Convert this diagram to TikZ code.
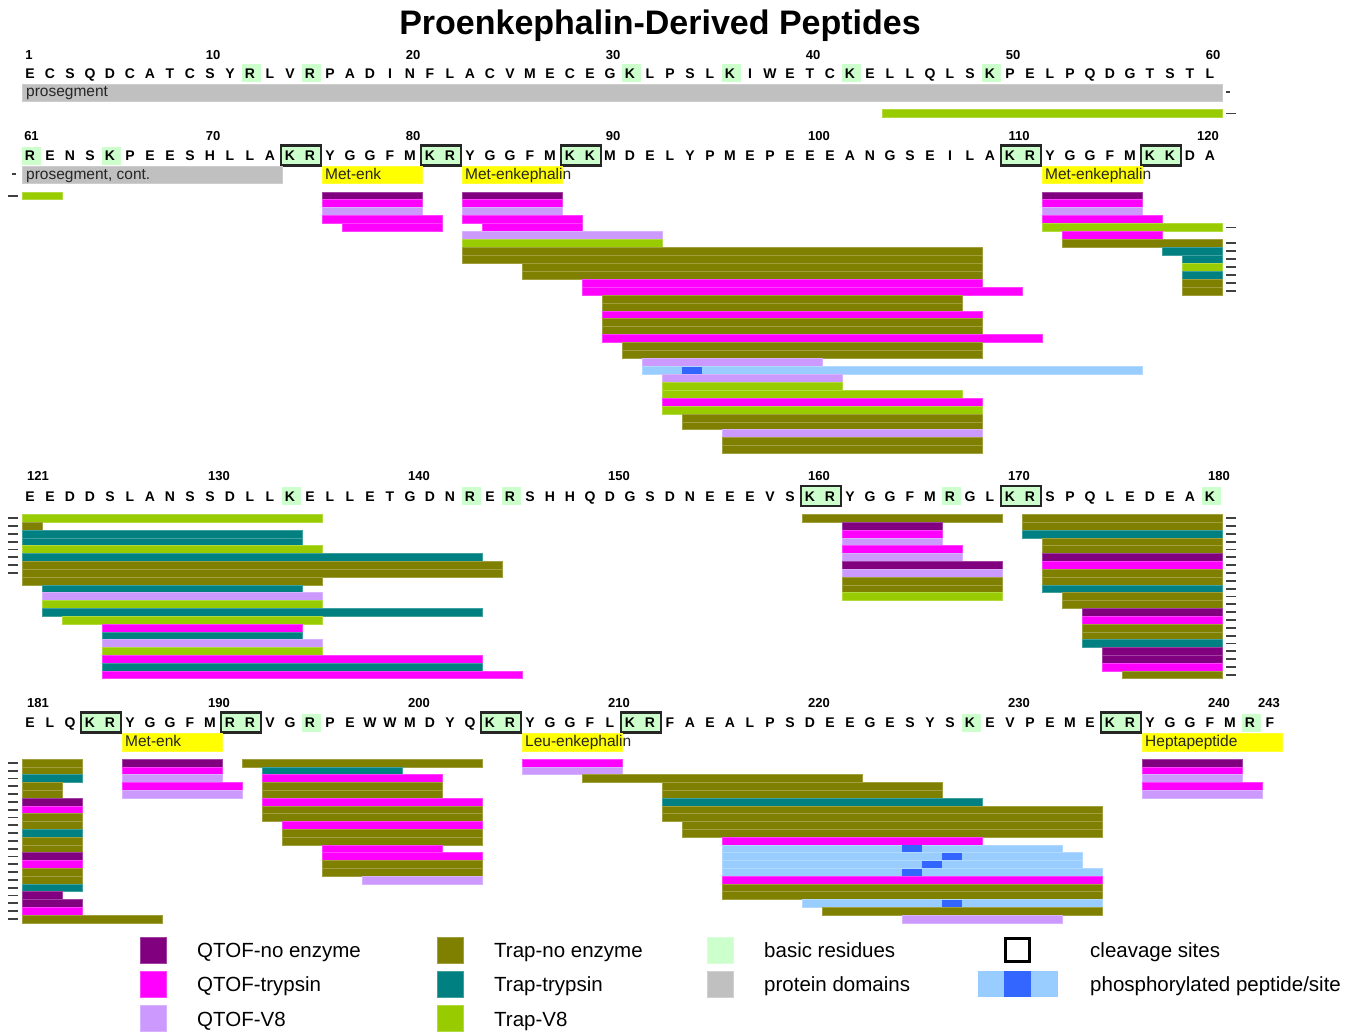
\documentclass[tikz,border=0pt]{standalone}
\usepackage{fontspec}
\setmainfont{Liberation Sans}
\definecolor{qne}{HTML}{800080}
\definecolor{qtr}{HTML}{FF00FF}
\definecolor{qv8}{HTML}{CC99FF}
\definecolor{tne}{HTML}{808000}
\definecolor{ttr}{HTML}{008080}
\definecolor{tv8}{HTML}{99CC00}
\definecolor{basic}{HTML}{CCFFCC}
\definecolor{dom}{HTML}{C0C0C0}
\definecolor{yel}{HTML}{FFFF00}
\definecolor{phl}{HTML}{99CCFF}
\definecolor{phd}{HTML}{3366FF}
\newcommand\PBar[4]{\filldraw[fill=#4,draw=#4!75!white,line width=0.5pt] ({20*(#2-\Off)+2},{\RY+#1*\RH}) rectangle ({20*(#3-\Off)+22},{\RY+(#1+1)*\RH});}
\newcommand\PSite[2]{\fill[phd] ({20*(#2-\Off)+2},{\RY+#1*\RH+0.4}) rectangle ({20*(#2-\Off)+22},{\RY+(#1+1)*\RH-0.4});}
\newcommand\TickR[1]{\draw[tickmark] (1226,{\RY+(#1+0.5)*\RH}) -- (1236,{\RY+(#1+0.5)*\RH});}
\newcommand\TickL[1]{\draw[tickmark] (8,{\RY+(#1+0.5)*\RH}) -- (18,{\RY+(#1+0.5)*\RH});}
\newcommand\SeqRow[3]{\foreach \c [count=\i] in {#3} {\node[res] (s#1-\i) at ({20*\i+10},#2) {\c};}}
\newcommand\Basic[2]{\foreach \p in {#2} {\fill[basic] ({20*\p+1.5},{#1-9}) rectangle ({20*\p+20.5},{#1+9});}}
\newcommand\CBox[2]{\foreach \p in {#2} {\fill[basic] ({20*\p+1.5},{#1-9}) rectangle ({20*\p+40.5},{#1+9}); \draw[cbox] ({20*\p+1},{#1-10}) rectangle ({20*\p+41},{#1+10});}}
\newcommand\DomLab[5]{\filldraw[fill=#5,draw=#5!80!white,line width=0.5pt] ({20*#3+2},#1) rectangle ({20*#4+22},#2);}
\begin{document}
\begin{tikzpicture}[x=1pt,y=-1pt,
  res/.style={font=\fontsize{14}{16}\selectfont\bfseries, anchor=base, inner sep=0pt},
  num/.style={font=\fontsize{13}{15}\selectfont\bfseries, anchor=base, inner sep=0pt},
  lab/.style={font=\fontsize{15.5}{17}\selectfont, anchor=base west, inner sep=0pt, text=black!85},
  leg/.style={font=\fontsize{20.5}{23}\selectfont, anchor=base west, inner sep=0pt},
  tickmark/.style={line width=1.8pt, draw=black!75},
  cbox/.style={draw=black!85, line width=2.5pt},
  swatch/.style={line width=0.5pt},
]
\useasboundingbox (0,0) rectangle (1360,1031);
\node[font=\fontsize{34}{40}\selectfont\bfseries, anchor=base, inner sep=0pt] (title) at (660,34) {Proenkephalin-Derived Peptides};

% ---------------- Row 1 ----------------
\Basic{73}{12,15,31,36,42,49}
\SeqRow{a}{78}{E,C,S,Q,D,C,A,T,C,S,Y,R,L,V,R,P,A,D,I,N,F,L,A,C,V,M,E,C,E,G,K,L,P,S,L,K,I,W,E,T,C,K,E,L,L,Q,L,S,K,P,E,L,P,Q,D,G,T,S,T,L}
\node[num] (na1) at (29,59.5) {1};
\foreach \k in {1,...,6} {\node[num] (na\k0) at ({200*\k+13},59.5) {\k0};}
\DomLab{84}{101}{1}{60}{dom}
\node[lab] (pro1) at (26,96.5) {prosegment};
\draw[tickmark,line width=1.5pt] (1226,92) -- (1230,92);
\def\Off{0}\def\RY{109.5}\def\RH{7.9}
\PBar{0}{44}{60}{tv8}\TickR{0}

% ---------------- Row 2 ----------------
\Basic{155.5}{1,5}
\CBox{155.5}{14,21,28,50,57}
\SeqRow{b}{160.5}{R,E,N,S,K,P,E,E,S,H,L,L,A,K,R,Y,G,G,F,M,K,R,Y,G,G,F,M,K,K,M,D,E,L,Y,P,M,E,P,E,E,E,A,N,G,S,E,I,L,A,K,R,Y,G,G,F,M,K,K,D,A}
\node[num] (nb61) at (31.5,140) {61};
\foreach \k/\t in {1/70,2/80,3/90} {\node[num] (nb\t) at ({200*\k+13},140) {\t};}
\foreach \k/\t in {4/100,5/110} {\node[num] (nb\t) at ({200*\k+19},140) {\t};}
\node[num] (nb120) at (1208,140) {120};
\DomLab{166}{183}{1}{13}{dom}
\DomLab{166}{183}{16}{20}{yel}
\DomLab{166}{183}{23}{27}{yel}
\DomLab{166}{183}{52}{56}{yel}
\node[lab] (pro2) at (26,179) {prosegment, cont.};
\node[lab] (me1) at (325,179) {Met-enk};
\node[lab] (me2) at (465,179) {Met-enkephalin};
\node[lab] (me3) at (1045,179) {Met-enkephalin};
\draw[tickmark,line width=1.5pt] (12,174) -- (16,174);
\def\Off{60}\def\RY{191.8}\def\RH{7.93}
\PBar{0}{61}{62}{tv8}\TickL{0}
\PBar{0}{76}{80}{qne}\PBar{0}{83}{87}{qne}\PBar{0}{112}{116}{qne}
\PBar{1}{76}{80}{qtr}\PBar{1}{83}{87}{qtr}\PBar{1}{112}{116}{qtr}
\PBar{2}{76}{80}{qv8}\PBar{2}{83}{87}{qv8}\PBar{2}{112}{116}{qv8}
\PBar{3}{76}{81}{qtr}\PBar{3}{83}{88}{qtr}\PBar{3}{112}{117}{qtr}
\PBar{4}{77}{81}{qtr}\PBar{4}{84}{88}{qtr}\PBar{4}{112}{120}{tv8}\TickR{4}
\PBar{5}{83}{92}{qv8}\PBar{5}{113}{117}{qtr}
\PBar{6}{83}{92}{tv8}\PBar{6}{113}{120}{tne}\TickR{6}
\PBar{7}{83}{108}{tne}\PBar{7}{118}{120}{ttr}\TickR{7}
\PBar{8}{83}{108}{tne}\PBar{8}{119}{120}{ttr}\TickR{8}
\PBar{9}{86}{108}{tne}\PBar{9}{119}{120}{tv8}\TickR{9}
\PBar{10}{86}{108}{tne}\PBar{10}{119}{120}{ttr}\TickR{10}
\PBar{11}{89}{108}{qtr}\PBar{11}{119}{120}{tne}\TickR{11}
\PBar{12}{89}{110}{qtr}\PBar{12}{119}{120}{tne}\TickR{12}
\PBar{13}{90}{107}{tne}
\PBar{14}{90}{107}{tne}
\PBar{15}{90}{108}{qtr}
\PBar{16}{90}{108}{tne}
\PBar{17}{90}{108}{tne}
\PBar{18}{90}{111}{qtr}
\PBar{19}{91}{108}{tne}
\PBar{20}{91}{108}{tne}
\PBar{21}{92}{100}{qv8}
\PBar{22}{92}{116}{phl}\PSite{22}{94}
\PBar{23}{93}{101}{qv8}
\PBar{24}{93}{101}{tv8}
\PBar{25}{93}{107}{tv8}
\PBar{26}{93}{108}{qtr}
\PBar{27}{93}{108}{tv8}
\PBar{28}{94}{108}{tne}
\PBar{29}{94}{108}{tne}
\PBar{30}{96}{108}{qv8}
\PBar{31}{96}{108}{tne}
\PBar{32}{96}{108}{tne}

% ---------------- Row 3 ----------------
\Basic{496}{14,23,25,47,60}
\CBox{496}{40,50}
\SeqRow{c}{501}{E,E,D,D,S,L,A,N,S,S,D,L,L,K,E,L,L,E,T,G,D,N,R,E,R,S,H,H,Q,D,G,S,D,N,E,E,E,V,S,K,R,Y,G,G,F,M,R,G,L,K,R,S,P,Q,L,E,D,E,A,K}
\node[num] (nc121) at (38,480) {121};
\foreach \k/\t in {1/130,2/140,3/150,4/160,5/170,6/180} {\node[num] (nc\t) at ({200*\k+19},480) {\t};}
\def\Off{120}\def\RY{514.3}\def\RH{7.83}
\PBar{0}{121}{135}{tv8}\TickL{0}\PBar{0}{160}{169}{tne}\PBar{0}{171}{180}{tne}\TickR{0}
\PBar{1}{121}{121}{tne}\TickL{1}\PBar{1}{162}{166}{qne}\PBar{1}{171}{180}{tne}\TickR{1}
\PBar{2}{121}{134}{ttr}\TickL{2}\PBar{2}{162}{166}{qtr}\PBar{2}{171}{180}{ttr}\TickR{2}
\PBar{3}{121}{134}{ttr}\TickL{3}\PBar{3}{162}{166}{qv8}\PBar{3}{172}{180}{tne}\TickR{3}
\PBar{4}{121}{135}{tv8}\TickL{4}\PBar{4}{162}{167}{qtr}\PBar{4}{172}{180}{tne}\TickR{4}
\PBar{5}{121}{143}{ttr}\TickL{5}\PBar{5}{162}{167}{qv8}\PBar{5}{172}{180}{qne}\TickR{5}
\PBar{6}{121}{144}{tne}\TickL{6}\PBar{6}{162}{169}{qne}\PBar{6}{172}{180}{qtr}\TickR{6}
\PBar{7}{121}{144}{tne}\TickL{7}\PBar{7}{162}{169}{qv8}\PBar{7}{172}{180}{tne}\TickR{7}
\PBar{8}{121}{135}{tne}\PBar{8}{162}{169}{tne}\PBar{8}{172}{180}{tne}\TickR{8}
\PBar{9}{122}{134}{ttr}\PBar{9}{162}{169}{tne}\PBar{9}{172}{180}{ttr}\TickR{9}
\PBar{10}{122}{135}{qv8}\PBar{10}{162}{169}{tv8}\PBar{10}{173}{180}{tne}\TickR{10}
\PBar{11}{122}{135}{tv8}\PBar{11}{173}{180}{tne}\TickR{11}
\PBar{12}{122}{143}{ttr}\PBar{12}{174}{180}{qne}\TickR{12}
\PBar{13}{123}{135}{tv8}\PBar{13}{174}{180}{qtr}\TickR{13}
\PBar{14}{125}{134}{qtr}\PBar{14}{174}{180}{tne}\TickR{14}
\PBar{15}{125}{134}{ttr}\PBar{15}{174}{180}{tne}\TickR{15}
\PBar{16}{125}{135}{qv8}\PBar{16}{174}{180}{ttr}\TickR{16}
\PBar{17}{125}{135}{tv8}\PBar{17}{175}{180}{qne}\TickR{17}
\PBar{18}{125}{143}{qtr}\PBar{18}{175}{180}{qne}\TickR{18}
\PBar{19}{125}{143}{ttr}\PBar{19}{175}{180}{qtr}\TickR{19}
\PBar{20}{125}{145}{qtr}\PBar{20}{176}{180}{tne}\TickR{20}

% ---------------- Row 4 ----------------
\Basic{722.5}{15,48,62}
\CBox{722.5}{4,11,24,31,55}
\SeqRow{d}{727.5}{E,L,Q,K,R,Y,G,G,F,M,R,R,V,G,R,P,E,W,W,M,D,Y,Q,K,R,Y,G,G,F,L,K,R,F,A,E,A,L,P,S,D,E,E,G,E,S,Y,S,K,E,V,P,E,M,E,K,R,Y,G,G,F,M,R,F}
\node[num] (nd181) at (38,707.5) {181};
\foreach \k/\t in {1/190,2/200,3/210,4/220,5/230,6/240} {\node[num] (nd\t) at ({200*\k+19},707.5) {\t};}
\node[num,anchor=base east] (nd243) at (1280,707.5) {243};
\DomLab{733}{751}{6}{10}{yel}
\DomLab{733}{751}{26}{30}{yel}
\DomLab{733}{751}{57}{63}{yel}
\node[lab] (me4) at (125,746) {Met-enk};
\node[lab] (le1) at (525,746) {Leu-enkephalin};
\node[lab] (hp1) at (1145,746) {Heptapeptide};
\def\Off{180}\def\RY{759}\def\RH{7.8}
\PBar{0}{181}{183}{tne}\PBar{0}{186}{190}{qne}\PBar{0}{192}{203}{tne}\PBar{0}{206}{210}{qtr}\PBar{0}{237}{241}{qne}
\PBar{1}{181}{183}{tne}\PBar{1}{186}{190}{qtr}\PBar{1}{193}{199}{ttr}\PBar{1}{206}{210}{qv8}\PBar{1}{237}{241}{qtr}
\PBar{2}{181}{183}{ttr}\PBar{2}{186}{190}{qv8}\PBar{2}{193}{201}{qtr}\PBar{2}{209}{222}{tne}\PBar{2}{237}{241}{qv8}
\PBar{3}{181}{182}{tne}\PBar{3}{186}{191}{qtr}\PBar{3}{193}{201}{tne}\PBar{3}{213}{226}{tne}\PBar{3}{237}{242}{qtr}
\PBar{4}{181}{182}{tne}\PBar{4}{186}{191}{qv8}\PBar{4}{193}{201}{tne}\PBar{4}{213}{226}{tne}\PBar{4}{237}{242}{qv8}
\PBar{5}{181}{183}{qne}\PBar{5}{193}{203}{qtr}\PBar{5}{213}{228}{ttr}
\PBar{6}{181}{183}{qtr}\PBar{6}{193}{203}{tne}\PBar{6}{213}{234}{tne}
\PBar{7}{181}{183}{tne}\PBar{7}{193}{203}{tne}\PBar{7}{213}{234}{tne}
\PBar{8}{181}{183}{tne}\PBar{8}{194}{203}{qtr}\PBar{8}{214}{234}{tne}
\PBar{9}{181}{183}{ttr}\PBar{9}{194}{203}{tne}\PBar{9}{214}{234}{tne}
\PBar{10}{181}{183}{tne}\PBar{10}{194}{203}{tne}\PBar{10}{216}{228}{qtr}
\PBar{11}{181}{183}{tne}\PBar{11}{196}{201}{qtr}\PBar{11}{216}{232}{phl}\PSite{11}{225}
\PBar{12}{181}{183}{qne}\PBar{12}{196}{203}{qtr}\PBar{12}{216}{233}{phl}\PSite{12}{227}
\PBar{13}{181}{183}{qtr}\PBar{13}{196}{203}{tne}\PBar{13}{216}{233}{phl}\PSite{13}{226}
\PBar{14}{181}{183}{tne}\PBar{14}{196}{203}{tne}\PBar{14}{216}{234}{phl}\PSite{14}{225}
\PBar{15}{181}{183}{tne}\PBar{15}{198}{203}{qv8}\PBar{15}{216}{234}{qtr}
\PBar{16}{181}{183}{ttr}\PBar{16}{216}{234}{tne}
\PBar{17}{181}{182}{qne}\PBar{17}{216}{234}{tne}
\PBar{18}{181}{183}{qne}\PBar{18}{220}{234}{phl}\PSite{18}{227}
\PBar{19}{181}{183}{qtr}\PBar{19}{221}{234}{tne}
\PBar{20}{181}{187}{tne}\PBar{20}{225}{232}{qv8}
\foreach \r in {0,...,20} {\TickL{\r}}

% ---------------- Legend ----------------
\filldraw[swatch,fill=qne,draw=qne!75!white] (140,937) rectangle (166,963);
\filldraw[swatch,fill=qtr,draw=qtr!75!white] (140,971) rectangle (166,997);
\filldraw[swatch,fill=qv8,draw=qv8!75!white] (140,1005) rectangle (166,1031);
\node[leg] (l1) at (197,957.3) {QTOF-no enzyme};
\node[leg] (l2) at (197,991.3) {QTOF-trypsin};
\node[leg] (l3) at (197,1026.3) {QTOF-V8};
\filldraw[swatch,fill=tne,draw=tne!75!white] (437,937) rectangle (463,963);
\filldraw[swatch,fill=ttr,draw=ttr!75!white] (437,971) rectangle (463,997);
\filldraw[swatch,fill=tv8,draw=tv8!75!white] (437,1005) rectangle (463,1031);
\node[leg] (l4) at (494,957.3) {Trap-no enzyme};
\node[leg] (l5) at (494,991.3) {Trap-trypsin};
\node[leg] (l6) at (494,1026.3) {Trap-V8};
\filldraw[swatch,fill=basic,draw=basic!75!white] (707,937) rectangle (733,963);
\filldraw[swatch,fill=dom,draw=dom!75!white] (707,971) rectangle (733,997);
\node[leg] (l7) at (764,957.3) {basic residues};
\node[leg] (l8) at (764,991.3) {protein domains};
\draw[draw=black, line width=3pt] (1005.5,938.5) rectangle (1029.5,961.5);
\fill[phl] (978,971) rectangle (1058,997);
\fill[phd] (1004,971) rectangle (1031,997);
\node[leg] (l9) at (1090,957.3) {cleavage sites};
\node[leg] (l10) at (1090,991.3) {phosphorylated peptide/site};
\end{tikzpicture}
\end{document}
